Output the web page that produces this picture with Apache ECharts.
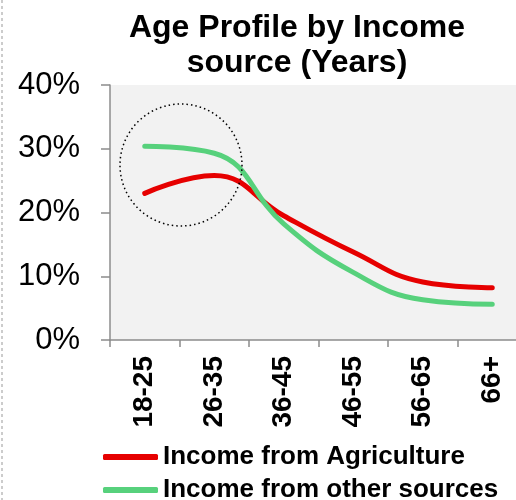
<!DOCTYPE html>
<html>
<head>
<meta charset="utf-8">
<script src="https://cdn.jsdelivr.net/npm/echarts@6/dist/echarts.min.js"></script>
<style>
  html, body { margin: 0; padding: 0; background: #fff; }
  #main { width: 516px; height: 500px; }
</style>
</head>
<body>
<div id="main"></div>
<script>
const ageGroups = ['18-25', '26-35', '36-45', '46-55', '56-65', '66+']
const agriculture = [23.0, 25.8, 19.5, 13.8, 9.1, 8.2]
const otherSources = [30.4, 29.3, 18.2, 10.6, 6.3, 5.6]
const yTicks = [0, 10, 20, 30, 40]

const chart = echarts.init(document.getElementById('main'))
const font = '"Liberation Sans", Arial, sans-serif'
const legendText = { fontSize: 26, fontWeight: 'bold', color: '#000', fontFamily: font }

chart.setOption({
  animation: false,
  textStyle: { fontFamily: font },
  title: {
    text: 'Age Profile by Income\nsource (Years)',
    left: 292,
    top: 6,
    textAlign: 'center',
    textStyle: { fontSize: 32, fontWeight: 'bold', color: '#000', lineHeight: 35, fontFamily: font }
  },
  grid: {
    left: 110, top: 85, bottom: 160, right: -11,
    outerBoundsMode: 'none',
    show: true, backgroundColor: '#f2f2f2', borderWidth: 0
  },
  legend: [
    {
      left: 103, top: 444, padding: 0,
      itemWidth: 55, itemHeight: 6,
      icon: 'roundRect',
      textStyle: legendText,
      data: ['Income from Agriculture']
    },
    {
      left: 103, top: 477, padding: 0,
      itemWidth: 55, itemHeight: 6,
      icon: 'roundRect',
      textStyle: legendText,
      data: ['Income from other sources']
    }
  ],
  xAxis: {
    type: 'category',
    data: ageGroups,
    boundaryGap: true,
    axisLine: { lineStyle: { color: '#8c8c8c', width: 1.5 } },
    axisTick: { show: true, length: 7, lineStyle: { color: '#8c8c8c', width: 1.5 } },
    axisLabel: { rotate: 90, margin: 16, fontSize: 28, fontWeight: 'bold', color: '#000', fontFamily: font }
  },
  yAxis: {
    type: 'value',
    min: yTicks[0],
    max: yTicks[yTicks.length - 1],
    interval: 10,
    axisLine: { show: true, lineStyle: { color: '#8c8c8c', width: 1.5 } },
    axisTick: { show: true, length: 9, lineStyle: { color: '#8c8c8c', width: 1.5 } },
    splitLine: { show: false },
    axisLabel: { formatter: '{value}%', fontSize: 31, color: '#000', margin: 30, fontFamily: font }
  },
  series: [
    {
      name: 'Income from Agriculture',
      type: 'line',
      data: agriculture,
      smooth: 0.45,
      symbol: 'none',
      color: '#e60000',
      lineStyle: { width: 5, cap: 'round' }
    },
    {
      name: 'Income from other sources',
      type: 'line',
      data: otherSources,
      smooth: 0.45,
      symbol: 'none',
      color: '#57d17c',
      lineStyle: { width: 5, cap: 'round' }
    }
  ],
  graphic: [
    {
      type: 'circle',
      shape: { cx: 181, cy: 165, r: 61 },
      style: { fill: 'none', stroke: '#000', lineWidth: 1.5, lineDash: [1.5, 3] },
      z: 100
    },
    {
      type: 'line',
      shape: { x1: 2, y1: 0, x2: 2, y2: 500 },
      style: { stroke: '#999', lineWidth: 1, lineDash: [3, 3] }
    }
  ]
})
</script>
</body>
</html>
